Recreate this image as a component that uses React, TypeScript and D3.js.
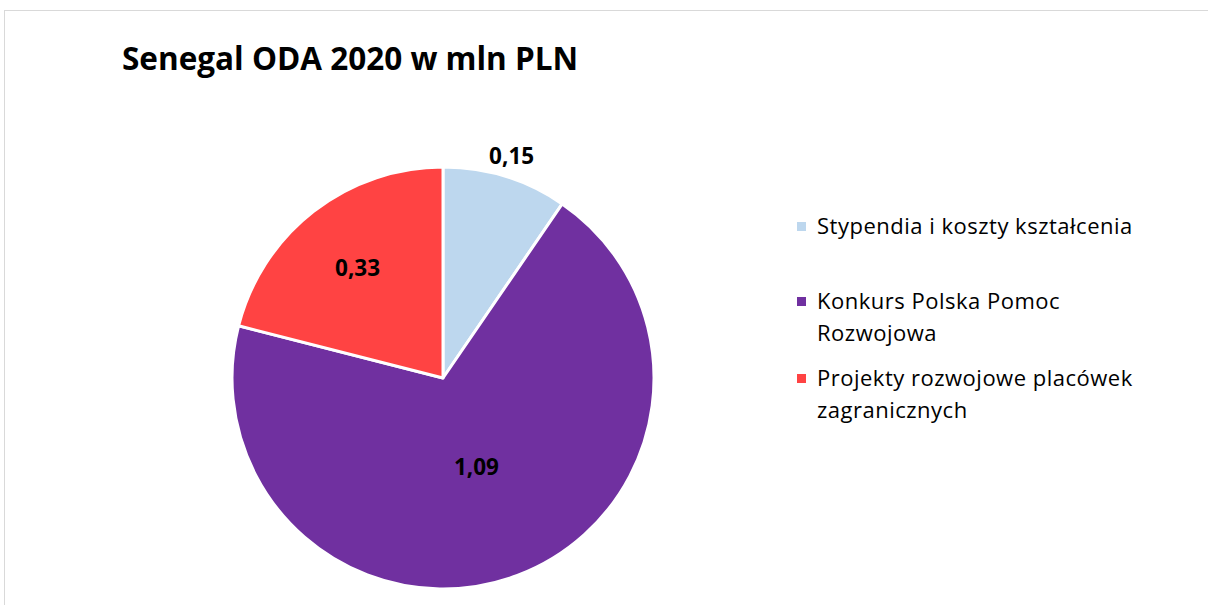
import React, { useRef, useEffect } from "react";
import * as d3 from "d3";

const categories = [
  "Stypendia i koszty kształcenia",
  "Konkurs Polska Pomoc Rozwojowa",
  "Projekty rozwojowe placówek zagranicznych",
];
const values = [0.15, 1.09, 0.33];
const valueLabels = ["0,15", "1,09", "0,33"];
const legendLines = [
  ["Stypendia i koszty kształcenia"],
  ["Konkurs Polska Pomoc", "Rozwojowa"],
  ["Projekty rozwojowe placówek", "zagranicznych"],
];
const colors = ["#BDD7EE", "#7030A0", "#FF4343"];
// label distance from centre, as a share of the radius
const labelRadius = [1.1, 0.45, 0.66];

export default function App() {
  const svgRef = useRef<SVGSVGElement>(null);

  useEffect(() => {
    const svg = d3.select(svgRef.current);
    svg.selectAll("*").remove();
    const width = 1208,
      height = 605;
    const font = "'Open Sans', sans-serif";

    svg
      .append("rect")
      .attr("x", 4.5)
      .attr("y", 10.5)
      .attr("width", width + 10)
      .attr("height", height + 10)
      .attr("fill", "#fff")
      .attr("stroke", "#d9d9d9")
      .attr("stroke-width", 1);

    svg
      .append("text")
      .attr("x", 122)
      .attr("y", 70)
      .attr("font-family", font)
      .attr("font-weight", "bold")
      .attr("font-size", 31.5)
      .attr("fill", "#000")
      .text("Senegal ODA 2020 w mln PLN");

    const cx = 443,
      cy = 378,
      r = 211;
    const pie = d3
      .pie<number>()
      .sort(null)
      .value((d) => d);
    const arcs = pie(values);
    const arc = d3.arc<d3.PieArcDatum<number>>().innerRadius(0).outerRadius(r);

    const g = svg.append("g").attr("transform", `translate(${cx},${cy})`);
    g.selectAll("path")
      .data(arcs)
      .join("path")
      .attr("d", arc)
      .attr("fill", (d, i) => colors[i])
      .attr("stroke", "#fff")
      .attr("stroke-width", 3)
      .attr("stroke-linejoin", "round");

    g.selectAll("text.val")
      .data(arcs)
      .join("text")
      .attr("class", "val")
      .attr("transform", (d, i) => {
        const a = (d.startAngle + d.endAngle) / 2;
        const rr = r * labelRadius[i];
        return `translate(${Math.sin(a) * rr},${-Math.cos(a) * rr})`;
      })
      .attr("text-anchor", "middle")
      .attr("dy", "0.35em")
      .attr("font-family", font)
      .attr("font-weight", "bold")
      .attr("font-size", 22.5)
      .attr("fill", "#000")
      .text((d, i) => valueLabels[i]);

    const lineH = 32;
    const legendY = [226, 301, 378];
    const leg = svg.append("g");
    categories.forEach((c, i) => {
      const row = leg.append("g").attr("transform", `translate(797,${legendY[i]})`);
      row
        .append("rect")
        .attr("x", 0)
        .attr("y", -4)
        .attr("width", 9)
        .attr("height", 9)
        .attr("fill", colors[i]);
      legendLines[i].forEach((t, j) => {
        row
          .append("text")
          .attr("x", 20)
          .attr("y", j * lineH)
          .attr("dy", "0.35em")
          .attr("font-family", font)
          .attr("font-size", 22)
          .attr("letter-spacing", 0.5)
          .attr("fill", "#000")
          .text(t);
      });
    });
  }, []);

  return (
    <svg
      ref={svgRef}
      width={1208}
      height={605}
      style={{ position: "absolute", left: 0, top: 0 }}
    ></svg>
  );
}
